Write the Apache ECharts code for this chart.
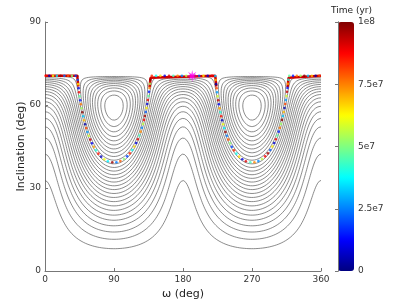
<!DOCTYPE html>
<html><head><meta charset="utf-8">
<script src="https://cdn.jsdelivr.net/npm/echarts@6/dist/echarts.min.js"></script>
<style>html,body{margin:0;padding:0;background:#fff}#c{width:407px;height:305px}</style>
</head><body><div id="c"></div>
<script>
// ---------- data ----------
const xTicks = [0, 90, 180, 270, 360];
const yTicks = [0, 30, 60, 90];
const colorTicks = [0, 2.5e7, 5e7, 7.5e7, 1e8];
const colorTickLabels = ['0', '2.5e7', '5e7', '7.5e7', '1e8'];
// Kozai constant sqrt(1-e^2) cos(i) of the system shown
const kozaiConst = 1 / 3;
// energy levels of the drawn contours (quadrupole Hamiltonian units)
const contourLevels = [-6.625, -6.074, -5.524, -4.974, -4.424, -3.873, -3.323, -2.773, -2.223, -1.672,
  -1.122, -0.572, -0.021, 0.529, 1.079, 1.629, 2.180, 2.730, 3.280, 3.830,
  4.381, 4.931, 5.481, 6.031, 6.582, 7.132, 7.682, 8.232, 8.783];
// orbit sample times (units of 1e7 yr), in order along the drawn track
const orbitTimes = [9.6, 2.1, 6.4, 0.8, 8.9, 4.7, 1.5, 7.6, 5.3, 9.9, 3.2, 6.9, 0.4, 8.1, 2.8, 5.8, 9.3, 1.1,
  7.1, 4.1, 8.6, 0.6, 6.1, 3.6, 9.7, 2.4, 7.9, 5.1, 1.9, 8.4, 3.9, 6.6, 0.9, 9.1, 4.4, 7.4, 2.6, 5.6, 8.8];
// last, densely sampled part of the track reaches down to this inclination
const lateTrackInc = 66.5;
// initial condition (star)
const startPoint = [192, 70.5];

// ---------- model ----------
const D2R = Math.PI / 180;
const TH2 = kozaiConst * kozaiConst;
const iMax = Math.acos(kozaiConst) / D2R;
function ham(incDeg, omDeg) {
  const ci = Math.cos(incDeg * D2R), c = ci * ci;
  let e2 = 1 - TH2 / c; if (e2 < 0) e2 = 0;
  const k = Math.cos(2 * omDeg * D2R);
  return (2 + 3 * e2) * (3 * c - 1) + 15 * e2 * (1 - c) * k;
}
const gx = []; for (let w = 0; w <= 360; w += 1) gx.push(w);
const gy = []; for (let j = 0; j <= 240; j++) gy.push(j * 0.25);
for (let j = 1; 60 + j * 0.05 < iMax - 1e-6; j++) gy.push(60 + j * 0.05);
gy.push(iMax);
const nx = gx.length, ny = gy.length;
const Z = new Float64Array(nx * ny);
for (let j = 0; j < ny; j++) for (let i = 0; i < nx; i++) Z[j * nx + i] = ham(gy[j], gx[i]);

function contour(level) {
  const adj = new Map();
  const add = (a, b) => {
    if (!adj.has(a)) adj.set(a, []); if (!adj.has(b)) adj.set(b, []);
    adj.get(a).push(b); adj.get(b).push(a);
  };
  for (let j = 0; j < ny - 1; j++) for (let i = 0; i < nx - 1; i++) {
    const z00 = Z[j * nx + i], z10 = Z[j * nx + i + 1], z01 = Z[(j + 1) * nx + i], z11 = Z[(j + 1) * nx + i + 1];
    const a00 = z00 > level, a10 = z10 > level, a01 = z01 > level, a11 = z11 > level;
    const B = (j * nx + i) * 2, T = ((j + 1) * nx + i) * 2, L = (j * nx + i) * 2 + 1, R = (j * nx + i + 1) * 2 + 1;
    const cr = [];
    if (a00 !== a10) cr.push(B);
    if (a10 !== a11) cr.push(R);
    if (a01 !== a11) cr.push(T);
    if (a00 !== a01) cr.push(L);
    if (cr.length === 2) add(cr[0], cr[1]);
    else if (cr.length === 4) {
      const ctr = (z00 + z10 + z01 + z11) / 4 > level;
      if (a00) {
        if (ctr) { add(B, R); add(T, L); } else { add(B, L); add(R, T); }
      } else {
        if (ctr) { add(B, L); add(R, T); } else { add(B, R); add(T, L); }
      }
    }
  }
  const pt = (id) => {
    const base = id >> 1, type = id & 1, j = Math.floor(base / nx), i = base % nx;
    if (type === 0) {
      const za = Z[j * nx + i], zb = Z[j * nx + i + 1], t = (level - za) / (zb - za);
      return [gx[i] + t * (gx[i + 1] - gx[i]), gy[j]];
    } else {
      const za = Z[j * nx + i], zb = Z[(j + 1) * nx + i], t = (level - za) / (zb - za);
      return [gx[i], gy[j] + t * (gy[j + 1] - gy[j])];
    }
  };
  const visited = new Set(), lines = [];
  const walk = (start) => {
    const path = [start]; visited.add(start); let cur = start;
    while (true) {
      const nb = adj.get(cur); let next = -1;
      for (const n of nb) if (!visited.has(n)) { next = n; break; }
      if (next < 0) { if (nb.includes(start) && path.length > 2) path.push(start); break; }
      visited.add(next); path.push(next); cur = next;
    }
    return path.map(pt);
  };
  for (const [k, v] of adj) if (v.length === 1 && !visited.has(k)) lines.push(walk(k));
  for (const [k] of adj) if (!visited.has(k)) lines.push(walk(k));
  return lines;
}

// separatrix of the e=0 track
function branchPoint(c, center, side) {
  const k = (1 - 5 * c) / (5 * (1 - c));
  const half = 0.5 * Math.acos(Math.max(-1, Math.min(1, k))) / D2R;
  const om = side < 0 ? center - 90 + half : center + 90 - half;
  return [om, Math.acos(Math.sqrt(c)) / D2R];
}
function branch(center, side, c0, c1, n) {
  const out = [];
  for (let s = 0; s <= n; s++) out.push(branchPoint(c0 + (c1 - c0) * s / n, center, side));
  return out;
}
const cBot = 0.6;
const cRed = Math.pow(Math.cos(lateTrackInc * D2R), 2);

// orbit dots
const SX = 276 / 360, SY = 249 / 90;
const dots = []; let tIdx = 0;
function placeDots(poly, step) {
  let acc = step;
  for (let s = 1; s < poly.length; s++) {
    const dx = (poly[s][0] - poly[s - 1][0]) * SX, dy = (poly[s][1] - poly[s - 1][1]) * SY;
    acc += Math.hypot(dx, dy);
    if (acc >= step) { acc = 0; dots.push([poly[s][0], poly[s][1], orbitTimes[tIdx++ % orbitTimes.length] * 1e7]); }
  }
}
[90, 270].forEach(ctr => {
  const lobe = branch(ctr, -1, TH2, cBot, 800).concat(branch(ctr, 1, cBot, TH2, 800));
  placeDots(lobe, 4);
});
const topSegs = [[0, 42.1], [137.9, 222.1], [317.9, 360]];
topSegs.forEach(([a, b]) => {
  const poly = [];
  for (let m = 0; m <= 60; m++) poly.push([a + (b - a) * m / 60, iMax]);
  placeDots(poly, 3.5);
});

const redPieces = [
  [[0, iMax]].concat(branch(90, -1, TH2, cRed, 100)),
  branch(90, 1, cRed, TH2, 100).concat(branch(270, -1, TH2, cRed, 100)),
  branch(270, 1, cRed, TH2, 100).concat([[360, iMax]])
];

// star symbol path
let starPath = 'path://';
for (let k = 0; k < 16; k++) {
  const a = k * Math.PI / 8, r = k % 2 === 0 ? 50 : 17;
  starPath += (k === 0 ? 'M' : 'L') + (50 + r * Math.sin(a)).toFixed(2) + ' ' + (50 - r * Math.cos(a)).toFixed(2) + ' ';
}
starPath += 'Z';

// ---------- chart ----------
const FONT = 'DejaVu Sans';
const series = [];
contourLevels.forEach(lv => {
  contour(lv).forEach(pl => {
    series.push({type: 'line', xAxisIndex: 0, yAxisIndex: 0, data: pl, showSymbol: false, silent: true,
      animation: false, z: 2, lineStyle: {color: '#5a5a5a', width: 0.7}});
  });
});
redPieces.forEach(pl => series.push({type: 'line', xAxisIndex: 0, yAxisIndex: 0, data: pl, showSymbol: false,
  silent: true, animation: false, z: 3, lineStyle: {color: '#d00000', width: 2.5}}));
const dotIndex = series.length;
series.push({type: 'scatter', xAxisIndex: 0, yAxisIndex: 0, data: dots, symbolSize: 2.6, silent: true,
  animation: false, z: 4});
series.push({type: 'scatter', xAxisIndex: 0, yAxisIndex: 0, data: [startPoint], symbol: starPath, symbolSize: 12,
  itemStyle: {color: '#ff00ff'}, silent: true, animation: false, z: 5});

const axisCommon = {
  axisLine: {show: true, lineStyle: {color: '#777', width: 1}},
  axisTick: {show: true, inside: true, length: 3, lineStyle: {color: '#777'}},
  splitLine: {show: false},
  axisLabel: {fontFamily: FONT, fontSize: 9, color: '#333', margin: 4}
};
const chart = echarts.init(document.getElementById('c'), null, {renderer: 'canvas'});
chart.setOption({
  animation: false,
  backgroundColor: '#fff',
  grid: [
    {left: 45, top: 22, width: 276, height: 249},
    {left: 338, top: 22, width: 16, height: 249}
  ],
  xAxis: [
    Object.assign({type: 'value', gridIndex: 0, min: xTicks[0], max: xTicks[xTicks.length - 1], interval: 90,
      name: 'ω (deg)', nameLocation: 'middle', nameGap: 18, nameMoveOverlap: false,
      nameTextStyle: {fontFamily: FONT, fontSize: 11, color: '#222'}}, axisCommon),
    {type: 'value', gridIndex: 1, min: 0, max: 1, show: false}
  ],
  yAxis: [
    Object.assign({type: 'value', gridIndex: 0, min: yTicks[0], max: yTicks[yTicks.length - 1], interval: 30,
      name: 'Inclination (deg)', nameLocation: 'middle', nameGap: 18, nameMoveOverlap: false,
      nameTextStyle: {fontFamily: FONT, fontSize: 11, color: '#222'}}, axisCommon),
    Object.assign({}, axisCommon, {type: 'value', gridIndex: 1, position: 'right', min: 0, max: 1e8,
      interval: 2.5e7, z: 10,
      axisLabel: {fontFamily: FONT, fontSize: 9, color: '#333', margin: 4,
        formatter: v => { const q = colorTicks.indexOf(v); return q >= 0 ? colorTickLabels[q] : ''; }}}),
    {type: 'value', gridIndex: 1, position: 'left', min: 0, max: 1e8, z: 10,
      axisLine: {show: true, lineStyle: {color: '#777'}}, axisTick: {show: false}, axisLabel: {show: false},
      splitLine: {show: false}}
  ],
  visualMap: {
    type: 'continuous', min: 0, max: 1e8, dimension: 2, seriesIndex: dotIndex,
    calculable: false, hoverLink: false, realtime: false,
    left: 338, top: 22, itemWidth: 16, itemHeight: 249, padding: 0, showLabel: false, text: null,
    inRange: {color: ['#000080', '#0000ff', '#0080ff', '#00ffff', '#80ff80', '#ffff00', '#ff8000', '#ff0000', '#800000']}
  },
  graphic: [{type: 'text', left: 331, top: 6, style: {text: 'Time (yr)', font: '9px "DejaVu Sans"', fill: '#222'}}],
  series: series
});
</script></body></html>
